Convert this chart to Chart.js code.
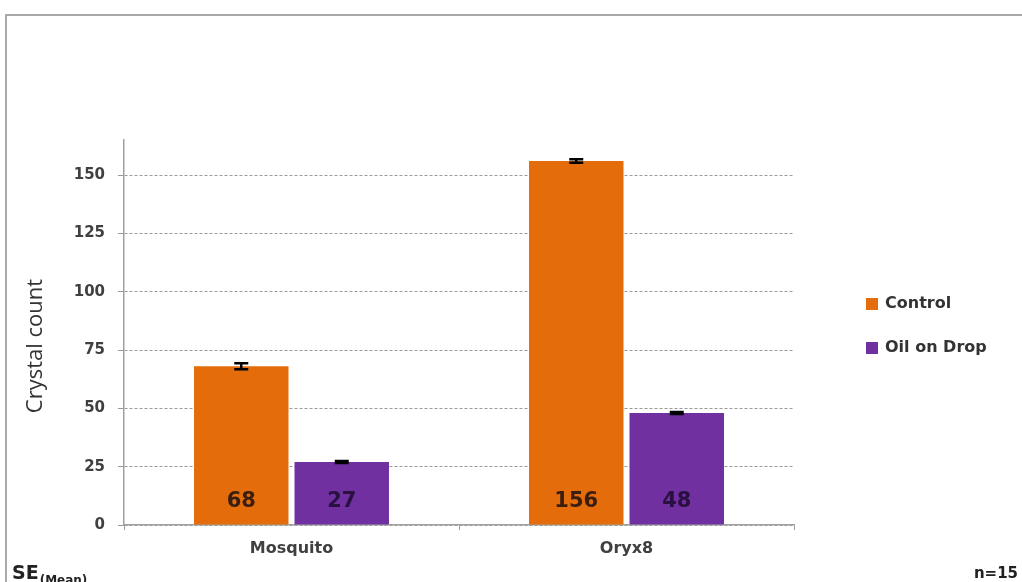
<!DOCTYPE html>
<html><head><meta charset="utf-8">
<script src="https://cdn.jsdelivr.net/npm/chart.js@4.4.1/dist/chart.umd.min.js"></script>
<style>
html,body{margin:0;padding:0;background:#fff;overflow:hidden}
#wrap{position:relative;width:1022px;height:582px;overflow:hidden}
#frame{position:absolute;left:5px;top:14px;width:1100px;height:700px;border-left:2px solid #a9a9a9;border-top:2px solid #a9a9a9}
canvas{position:absolute;left:0;top:0}
</style></head><body>
<div id="wrap"><div id="frame"></div><canvas id="c" width="1022" height="582"></canvas></div>
<script>
// Crystal counts per plate type, with standard error of the mean
const categories = ['Mosquito', 'Oryx8'];
const seriesNames = ['Control', 'Oil on Drop'];
const controlValues = [68, 156];
const oilValues = [27, 48];
const controlErrors = [1.3, 0.8];
const oilErrors = [0.4, 0.4];
const yTickValues = [0, 25, 50, 75, 100, 125, 150];
const seriesColors = ['#E46C0A', '#7030A0'];
const labelColors = ['#3a1e10', '#2a1040'];

const FAMILY = '"DejaVu Sans", sans-serif';

const overlay = {
  id: 'overlay',
  afterDatasetsDraw(chart) {
    const ctx = chart.ctx;
    const y = chart.scales.y;
    const errs = [controlErrors, oilErrors];
    ctx.save();
    chart.data.datasets.forEach((ds, di) => {
      const meta = chart.getDatasetMeta(di);
      meta.data.forEach((bar, i) => {
        const v = ds.data[i];
        const e = errs[di][i];
        const yTop = y.getPixelForValue(v + e);
        const yBot = y.getPixelForValue(v - e);
        // error bar
        ctx.strokeStyle = '#000';
        ctx.lineWidth = 2.5;
        ctx.beginPath();
        ctx.moveTo(bar.x, yTop); ctx.lineTo(bar.x, yBot);
        ctx.moveTo(bar.x - 7, yTop); ctx.lineTo(bar.x + 7, yTop);
        ctx.moveTo(bar.x - 7, yBot); ctx.lineTo(bar.x + 7, yBot);
        ctx.stroke();
        // value label inside the bar base
        ctx.fillStyle = labelColors[di];
        ctx.font = 'bold 21px ' + FAMILY;
        ctx.textAlign = 'center';
        ctx.textBaseline = 'middle';
        ctx.fillText(String(v), bar.x, y.getPixelForValue(0) - 23);
      });
    });
    // y axis title
    ctx.save();
    ctx.translate(36, 346);
    ctx.rotate(-Math.PI / 2);
    ctx.fillStyle = '#333';
    ctx.font = '22px "Open Sans", sans-serif';
    ctx.textAlign = 'center';
    ctx.textBaseline = 'middle';
    ctx.fillText('Crystal count', 0, 0);
    ctx.restore();
    // legend
    const legY = [304, 348];
    seriesNames.forEach((name, i) => {
      ctx.fillStyle = seriesColors[i];
      ctx.fillRect(866, legY[i] - 6, 12, 12);
      ctx.fillStyle = '#333';
      ctx.font = 'bold 16px ' + FAMILY;
      ctx.textAlign = 'left';
      ctx.textBaseline = 'middle';
      ctx.fillText(name, 885, legY[i]);
    });
    // footnotes
    ctx.fillStyle = '#222';
    ctx.textAlign = 'left';
    ctx.textBaseline = 'alphabetic';
    ctx.font = 'bold 19px ' + FAMILY;
    ctx.fillText('SE', 12, 579);
    const w = ctx.measureText('SE').width;
    ctx.font = 'bold 12px ' + FAMILY;
    ctx.fillText('(Mean)', 12 + w + 1, 584);
    ctx.font = 'bold 15px ' + FAMILY;
    ctx.textAlign = 'right';
    ctx.fillText('n=15', 1018, 578);
    ctx.restore();
  }
};

new Chart(document.getElementById('c'), {
  type: 'bar',
  data: {
    labels: categories,
    datasets: [
      { label: seriesNames[0], data: controlValues, backgroundColor: seriesColors[0] },
      { label: seriesNames[1], data: oilValues, backgroundColor: seriesColors[1] }
    ]
  },
  options: {
    responsive: false,
    animation: false,
    devicePixelRatio: 1,
    categoryPercentage: 0.6,
    barPercentage: 0.94,
    layout: { padding: { left: 22, right: 228, top: 140, bottom: 0 } },
    plugins: { legend: { display: false }, tooltip: { enabled: false } },
    scales: {
      x: {
        grid: { drawOnChartArea: false, drawTicks: true, tickLength: 5, tickColor: '#999' },
        border: { color: '#a0a0a0', width: 1.5 },
        ticks: { font: { family: FAMILY, size: 16, weight: 'bold' }, color: '#404040', padding: 9 },
        afterFit(s) { s.height = 57; }
      },
      y: {
        min: 0, max: 165,
        afterBuildTicks(s) { s.ticks = yTickValues.map(v => ({ value: v })); },
        grid: { color: '#999', lineWidth: 1, tickLength: 6, tickBorderDash: [], tickColor: '#999', drawTicks: true },
        border: { color: '#a0a0a0', width: 1.5, dash: [3, 2] },
        ticks: { font: { family: FAMILY, size: 15, weight: 'bold' }, color: '#404040', padding: 13 },
        afterFit(s) { s.width = 102; }
      }
    }
  },
  plugins: [overlay]
});
</script>
</body></html>
